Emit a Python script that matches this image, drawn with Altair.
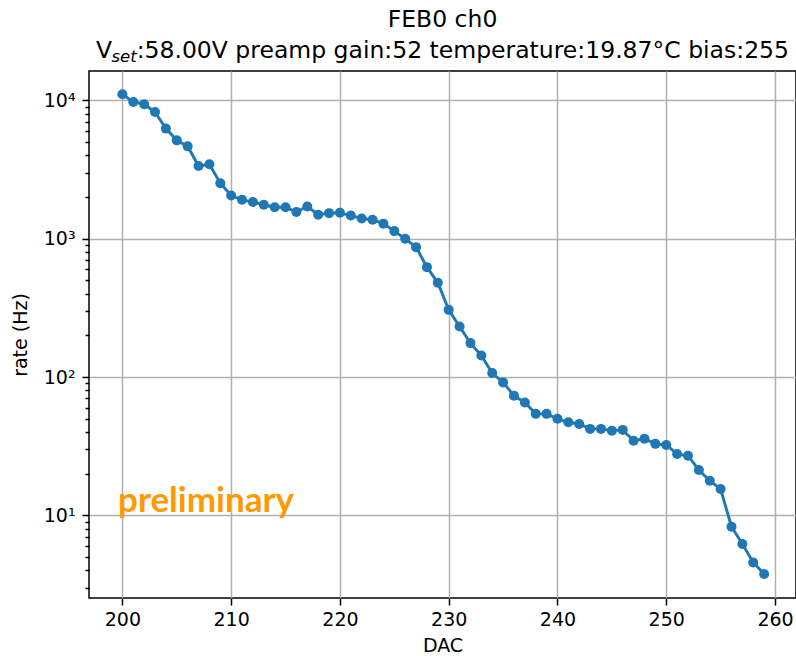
import altair as alt
import pandas as pd

# ---- data ----
dac = list(range(200, 260))
rate = [11070, 9730, 9380, 8240, 6250, 5140, 4650, 3350, 3450, 2520,
        2050, 1910, 1840, 1760, 1690, 1690, 1560, 1710, 1490, 1530,
        1540, 1470, 1400, 1370, 1285, 1135, 1000, 869, 623, 480,
        306, 232, 176, 143, 107, 91.5, 73.4, 65.5, 54.2, 54.2,
        49.9, 47.1, 45.8, 42.2, 42.2, 41.0, 41.5, 34.7, 35.8, 32.9,
        32.3, 27.8, 27.0, 21.3, 17.8, 15.5, 8.28, 6.21, 4.57, 3.77]

x_ticks = [200, 210, 220, 230, 240, 250, 260]
y_major = [10, 100, 1000, 10000]
y_minor = [3, 4, 5, 6, 7, 8, 9,
           20, 30, 40, 50, 60, 70, 80, 90,
           200, 300, 400, 500, 600, 700, 800, 900,
           2000, 3000, 4000, 5000, 6000, 7000, 8000, 9000]

title_main = "FEB0 ch0"
sub_v = "V"
sub_set = "set"
sub_rest = ":58.00V preamp gain:52 temperature:19.87°C bias:255"
watermark = "preliminary"

df = pd.DataFrame({"DAC": dac, "rate": rate})

W, H = 707, 527
FONT = "DejaVu Sans"
BLUE = "#1f77b4"

major_test = "indexof([10, 100, 1000, 10000], datum.value) >= 0"

x_enc = alt.X(
    "DAC:Q",
    scale=alt.Scale(domain=[196.93, 261.93], nice=False, zero=False),
    axis=alt.Axis(
        values=x_ticks, grid=True, gridColor="#b0b0b0", gridWidth=1.5,
        tickSize=7, tickWidth=1.5, tickColor="black",
        domain=False, labelFont=FONT, labelFontSize=19, labelColor="black",
        labelPadding=5, labelFlush=False,
        titleFont=FONT, titleFontSize=19, titleFontWeight="normal",
        titleColor="black", titlePadding=7,
    ),
    title="DAC",
)

y_enc = alt.Y(
    "rate:Q",
    scale=alt.Scale(type="log", domain=[2.53, 16300], nice=False),
    axis=alt.Axis(
        values=y_major + y_minor,
        labelExpr=("datum.value == 10 ? '10\u00b9' : datum.value == 100 ? '10\u00b2' : "
                   "datum.value == 1000 ? '10\u00b3' : datum.value == 10000 ? '10\u2074' : ''"),
        grid=True, gridColor="#b0b0b0", gridWidth=1.5,
        gridOpacity={"condition": {"test": major_test, "value": 1}, "value": 0},
        tickSize={"condition": {"test": major_test, "value": 7}, "value": 4},
        tickWidth=1.5, tickColor="black",
        domain=False, labelFont=FONT, labelFontSize=19, labelColor="black",
        labelPadding=7, labelOverlap=False, labelFlush=False,
        titleFont=FONT, titleFontSize=19, titleFontWeight="normal",
        titleColor="black", titlePadding=13,
    ),
    title="rate (Hz)",
)

base = alt.Chart(df)
line = base.mark_line(color=BLUE, strokeWidth=2.9).encode(x=x_enc, y=y_enc)
pts = base.mark_circle(color=BLUE, size=100, opacity=1).encode(x=x_enc, y=y_enc)

one = pd.DataFrame({"t": [0]})

t_main = alt.Chart(one).mark_text(
    text=title_main, font=FONT, fontSize=23.5, color="black",
    align="center", baseline="alphabetic",
).encode(x=alt.value(W / 2), y=alt.value(-44))

t_v = alt.Chart(one).mark_text(
    text=sub_v, font=FONT, fontSize=23.5, color="black",
    align="left", baseline="alphabetic",
).encode(x=alt.value(7), y=alt.value(-13))

t_set = alt.Chart(one).mark_text(
    text=sub_set, font=FONT, fontSize=16.5, fontStyle="italic", color="black",
    align="left", baseline="alphabetic",
).encode(x=alt.value(22.5), y=alt.value(-9))

t_rest = alt.Chart(one).mark_text(
    text=sub_rest, font=FONT, fontSize=23.5, color="black",
    align="right", baseline="alphabetic",
).encode(x=alt.value(700), y=alt.value(-13))

t_wm = alt.Chart(one).mark_text(
    text=watermark, font="Lato", fontSize=35, fontWeight="bold", color="#FF9900",
    align="left", baseline="alphabetic",
).encode(x=alt.value(29), y=alt.value(441))

chart = alt.layer(line, pts, t_wm, t_main, t_v, t_set, t_rest).properties(
    width=W, height=H,
    autosize=alt.AutoSizeParams(type="none"),
    padding={"left": 89, "top": 71, "right": 0, "bottom": 58},
    background="white",
).configure_view(stroke="black", strokeWidth=1.5)

chart.save("out.html", embed_options={"renderer": "svg", "actions": False})
